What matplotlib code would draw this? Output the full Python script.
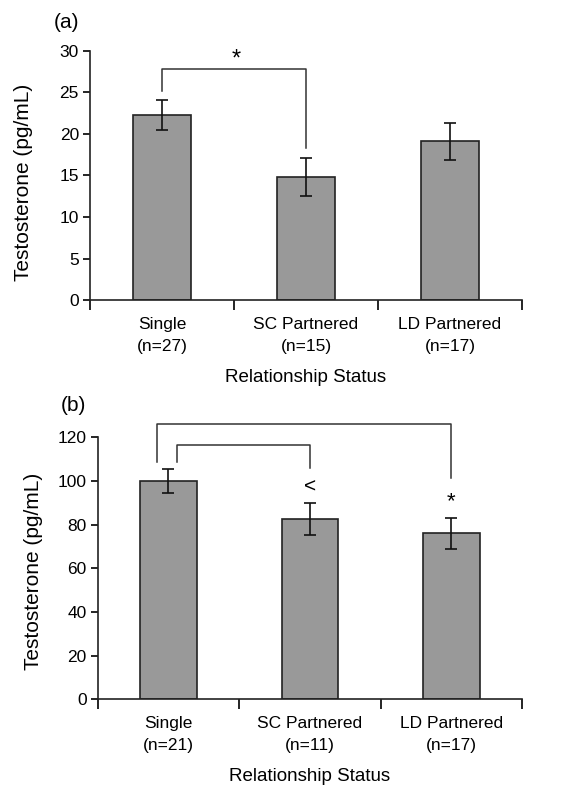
import matplotlib
matplotlib.use("Agg")
import matplotlib.pyplot as plt
import numpy as np

plt.rcParams['font.family'] = ['Liberation Sans', 'DejaVu Sans']

categories = ["Single", "SC Partnered", "LD Partnered"]
n_a = [27, 15, 17]
n_b = [21, 11, 17]
means_a = [22.3, 14.8, 19.1]
errs_a = [1.8, 2.25, 2.2]
means_b = [100.1, 82.6, 76.0]
errs_b = [5.5, 7.2, 7.2]
yticks_a = [0, 5, 10, 15, 20, 25, 30]
yticks_b = [0, 20, 40, 60, 80, 100, 120]

fig = plt.figure(figsize=(5.86, 7.92), dpi=100)
ax_a = fig.add_axes([0.1536, 0.621, 0.737, 0.315])
ax_b = fig.add_axes([0.1667, 0.117, 0.724, 0.331])

def style(ax, means, errs, ns, yticks):
    x = np.arange(len(categories))
    ax.bar(x, means, width=0.4, color="#999999", edgecolor="#222222", linewidth=1.2, zorder=2)
    ax.errorbar(x, means, yerr=errs, fmt="none", ecolor="#111111", elinewidth=1.2,
                capsize=4.5, capthick=1.2, zorder=3)
    ax.set_xlim(-0.5, 2.5)
    ax.set_ylim(yticks[0], yticks[-1])
    ax.set_yticks(yticks)
    ax.set_xticks([-0.5, 0.5, 1.5, 2.5])
    ax.set_xticklabels([])
    ax.set_xticks(x, minor=True)
    ax.set_xticklabels([f"{c}\n(n={n})" for c, n in zip(categories, ns)], minor=True,
                       fontsize=12.5, linespacing=1.6)
    ax.tick_params(axis="x", which="minor", length=0, pad=12)
    ax.tick_params(axis="x", which="major", length=7, width=1.2, direction="out")
    ax.tick_params(axis="y", length=5, width=1.2, direction="out", labelsize=12.5, pad=3)
    for s in ["top", "right"]:
        ax.spines[s].set_visible(False)
    for s in ["left", "bottom"]:
        ax.spines[s].set_linewidth(1.2)
        ax.spines[s].set_color("#222222")
    ax.set_xlabel("Relationship Status", fontsize=13.5, labelpad=11)
    ax.set_ylabel("Testosterone (pg/mL)", fontsize=15)

style(ax_a, means_a, errs_a, n_a, yticks_a)
style(ax_b, means_b, errs_b, n_b, yticks_b)
ax_a.yaxis.set_label_coords(-0.132, 0.473)
ax_b.yaxis.set_label_coords(-0.129, 0.487)

lc = "#333333"
# panel a bracket
ax_a.plot([0, 0, 1, 1], [25.2, 27.75, 27.75, 18.3], color=lc, lw=1.1, clip_on=False)
ax_a.text(0.517, 28.2, "*", ha="center", va="baseline", fontsize=17)

# panel b brackets
ax_b.plot([-0.08, -0.08, 2.0, 2.0], [108.6, 126, 126, 101.2], color=lc, lw=1.1, clip_on=False)
ax_b.plot([0.06, 0.06, 1.0, 1.0], [108.6, 116.5, 116.5, 105.8], color=lc, lw=1.1, clip_on=False)
ax_b.text(1.0, 97.0, "<", ha="center", va="center", fontsize=15)
ax_b.text(2.0, 88.0, "*", ha="center", va="baseline", fontsize=16)

fig.text(0.114, 0.972, "(a)", fontsize=15, ha="center", va="center")
fig.text(0.126, 0.488, "(b)", fontsize=15, ha="center", va="center")

fig.savefig("out.png", dpi=100)
